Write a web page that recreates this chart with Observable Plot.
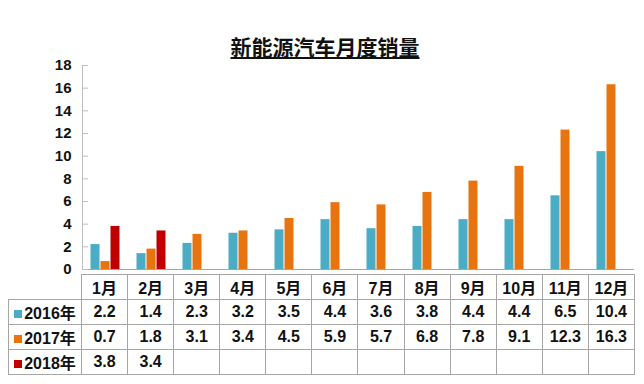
<!DOCTYPE html>
<html><head><meta charset="utf-8">
<script src="https://cdn.jsdelivr.net/npm/d3@7"></script>
<script src="https://cdn.jsdelivr.net/npm/@observablehq/plot@0.6"></script>
<style>
body{margin:0;background:#fff;width:644px;height:384px;position:relative;overflow:hidden;font-family:"Liberation Sans",Arial,"Noto Sans CJK SC",sans-serif;}
#title{position:absolute;left:0;top:31px;width:644px;text-align:center;padding-left:6px;box-sizing:border-box;font:bold 21px "Noto Sans CJK SC",sans-serif;text-decoration:underline;text-underline-offset:2px;text-decoration-thickness:2px;color:#111;}
#chart{position:absolute;left:0;top:0}
table{position:absolute;left:8px;top:273.5px;border-collapse:collapse;table-layout:fixed;width:626px;background:#fff;}
td{border:1px solid #a6a6a6;padding:0;text-align:center;font-weight:bold;font-size:16px;color:#111;white-space:nowrap;overflow:hidden;}
tr{height:24.25px;}
td.empty{border-top:none;border-left:none;}
.sw{display:inline-block;width:8px;height:8px;margin-right:2px;vertical-align:1px;}
</style></head>
<body>
<div id="title"></div>
<div id="chart"></div>
<table id="tbl"></table>
<script>
const title = "新能源汽车月度销量";
const months = ["1月","2月","3月","4月","5月","6月","7月","8月","9月","10月","11月","12月"];
const series = ["2016年","2017年","2018年"];
const colors = ["#4bacc6","#e8740f","#c00000"];
const v2016 = [2.2,1.4,2.3,3.2,3.5,4.4,3.6,3.8,4.4,4.4,6.5,10.4];
const v2017 = [0.7,1.8,3.1,3.4,4.5,5.9,5.7,6.8,7.8,9.1,12.3,16.3];
const v2018 = [3.8,3.4];
const yTicks = [0,2,4,6,8,10,12,14,16,18];

const values = [v2016, v2017, v2018];
const data = [];
months.forEach((m, i) => {
  series.forEach((s, j) => {
    const v = values[j][i];
    if (v != null) data.push({month: m, series: s, value: v});
  });
});

document.getElementById("title").textContent = title;

const plot = Plot.plot({
  width: 644, height: 280,
  marginLeft: 81, marginRight: 10, marginTop: 65, marginBottom: 11,
  style: {fontFamily: '"Liberation Sans", Arial, sans-serif', background: "transparent"},
  fx: {domain: months, padding: 0, axis: null, label: null},
  x: {domain: series, paddingInner: 0, paddingOuter: 0.8, axis: null, label: null},
  y: {domain: [0, 18], axis: null, label: null},
  color: {domain: series, range: colors},
  marks: [
    Plot.barY(data, {fx: "month", x: "series", y: "value", fill: "series", insetLeft: 0.5, insetRight: 0.5}),
    Plot.frame({anchor: "left", facetAnchor: "left", stroke: "#bfbfbf"}),
    Plot.ruleY([0], {stroke: "#a6a6a6"}),
    Plot.axisY({ticks: yTicks, label: null, tickSize: 0, tickPadding: 11, fontSize: 15, fontWeight: "bold", fill: "#111"}),
    Plot.axisY({ticks: yTicks, label: null, tickSize: -6, text: null, stroke: "#bfbfbf"})
  ]
});
document.getElementById("chart").appendChild(plot);

// table
const tbl = document.getElementById("tbl");
const cg = document.createElement("colgroup");
cg.innerHTML = `<col style="width:73px">` + months.map(() => `<col style="width:46.08px">`).join("");
tbl.appendChild(cg);
let html = `<tr><td class="empty"></td>${months.map(m => `<td>${m}</td>`).join("")}</tr>`;
series.forEach((s, j) => {
  html += `<tr><td><span class="sw" style="background:${colors[j]}"></span>${s}</td>` +
    months.map((m, i) => `<td>${values[j][i] != null ? values[j][i].toFixed(1) : ""}</td>`).join("") + `</tr>`;
});
tbl.insertAdjacentHTML("beforeend", html);
</script>
</body></html>
